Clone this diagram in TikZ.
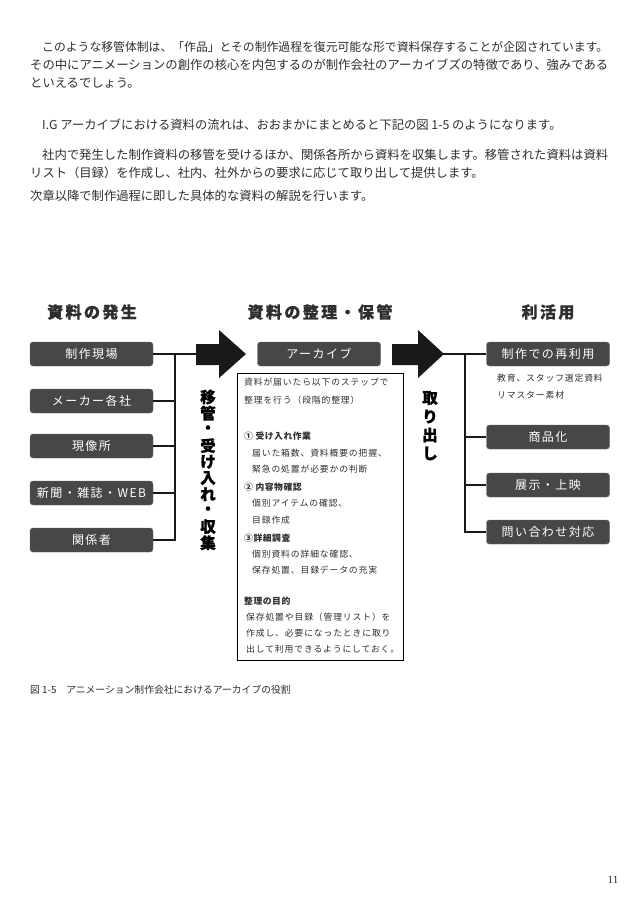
\documentclass[tikz,border=0pt]{standalone}
\usepackage{fontspec}
\usepackage{graphicx}
\setmainfont{Noto Sans CJK JP}
\newfontfamily\pagenumfont{Liberation Serif}
\definecolor{boxgray}{HTML}{474747}
\definecolor{txt}{HTML}{2E2E2E}
\begin{document}
\begin{tikzpicture}[x=1pt,y=-1pt,
  body/.style={anchor=west, inner sep=0, text=txt, font=\fontsize{12.3}{14}\selectfont},
  headtxt/.style={inner sep=0, text=txt, font=\fontsize{16}{18}\selectfont\bfseries\addfontfeature{LetterSpace=15,FakeBold=0.8}},
  darkbox/.style={fill=boxgray, draw=black!60, line width=0.4pt, rounded corners=3pt, minimum width=123pt, minimum height=24pt, inner sep=0, text=white, font=\fontsize{12}{13}\selectfont\addfontfeature{LetterSpace=12}},
  wire/.style={line width=1.8pt, draw=black!90},
  small/.style={anchor=west, inner sep=0, text=txt, font=\fontsize{8.8}{10}\selectfont\addfontfeature{LetterSpace=10}},
  smallb/.style={anchor=west, inner sep=0, text=txt, font=\fontsize{8.8}{10}\selectfont\bfseries\addfontfeature{LetterSpace=6}},
  vchar/.style={inner sep=0, text=black, font=\fontsize{15.5}{16}\selectfont\bfseries\addfontfeature{FakeBold=0.8}}
]
\useasboundingbox[fill=white] (0,0) rectangle (638,903);

% ---- body text ----
\node[body] (t1) at (42,47) {\resizebox{566pt}{!}{このような移管体制は、「作品」とその制作過程を復元可能な形で資料保存することが企図されています。}};
\node[body] (t2) at (30,65) {\resizebox{578pt}{!}{その中にアニメーションの創作の核心を内包するのが制作会社のアーカイブズの特徴であり、強みである}};
\node[body] (t3) at (30,83) {といえるでしょう。};
\node[body] (t4) at (42,125) {I.G アーカイブにおける資料の流れは、おおまかにまとめると下記の図 1-5 のようになります。};
\node[body] (t5) at (42,155) {\resizebox{566pt}{!}{社内で発生した制作資料の移管を受けるほか、関係各所から資料を収集します。移管された資料は資料}};
\node[body] (t6) at (30,173) {リスト（目録）を作成し、社内、社外からの要求に応じて取り出して提供します。};
\node[body] (t7) at (30,196) {次章以降で制作過程に即した具体的な資料の解説を行います。};

% ---- headings ----
\node[headtxt] (h1) at (92,312) {資料の発生};
\node[headtxt] (h2) at (320,312) {資料の整理・保管};
\node[headtxt] (h3) at (548,312) {利活用};

% ---- left boxes ----
\node[darkbox] (L1) at (91.5,354) {制作現場};
\node[darkbox] (L2) at (91.5,401) {メーカー各社};
\node[darkbox] (L3) at (91.5,446) {現像所};
\node[darkbox] (L4) at (91.5,493) {新聞・雑誌・WEB};
\node[darkbox] (L5) at (91.5,540) {関係者};

\coordinate (lb) at (175,354);
\coordinate (a1s) at (198,354);
\draw[wire] (L1.east) -- (a1s);
\draw[wire] (L5.east) -| (lb);
\draw[wire] (L2.east) -- (L2.east -| lb);
\draw[wire] (L3.east) -- (L3.east -| lb);
\draw[wire] (L4.east) -- (L4.east -| lb);

% arrow 1
\fill[black!90] (196,344) -- (219,344) -- (219,330) -- (246,354) -- (219,378) -- (219,365) -- (196,365) -- cycle;

% vertical text 1
\foreach \c [count=\i from 0] in {移,管,・,受,け,入,れ,・,収,集}
  \node[vchar] (va\i) at (208,{397+16.2*\i}) {\c};

% ---- middle ----
\node[darkbox] (arc) at (319,354) {アーカイブ};
\node[draw=black, line width=0.9pt, inner sep=0, minimum width=166pt, minimum height=287pt, anchor=north west] (panel) at (237,373) {};

\node[small]  (p1)  at (244,382) {資料が届いたら以下のステップで};
\node[small]  (p2)  at (244,400) {整理を行う（段階的整理）};
\node[smallb] (p3)  at (244,436) {① 受け入れ作業};
\node[small]  (p4)  at (252,453) {届いた箱数、資料概要の把握、};
\node[small]  (p5)  at (252,469) {緊急の処置が必要かの判断};
\node[smallb] (p6)  at (244,487) {② 内容物確認};
\node[small]  (p7)  at (252,503) {個別アイテムの確認、};
\node[small]  (p8)  at (252,520) {目録作成};
\node[smallb] (p9)  at (244,538) {③詳細調査};
\node[small]  (p10) at (252,554) {個別資料の詳細な確認、};
\node[small]  (p11) at (252,570) {保存処置、目録データの充実};
\node[smallb] (p12) at (244,601) {整理の目的};
\node[small]  (p13) at (246,617) {保存処置や目録（管理リスト）を};
\node[small]  (p14) at (246,633) {作成し、必要になったときに取り};
\node[small]  (p15) at (246,649) {出して利用できるようにしておく。};

% arrow 2
\fill[black!90] (392,344) -- (418,344) -- (418,330) -- (444,354) -- (418,378) -- (418,365) -- (392,365) -- cycle;

% vertical text 2
\foreach \c [count=\i from 0] in {取,り,出,し}
  \node[vchar] (vb\i) at (430,{398+18.5*\i}) {\c};

% ---- right ----
\node[darkbox] (R1) at (548,354) {制作での再利用};
\node[darkbox] (R2) at (548,437) {商品化};
\node[darkbox] (R3) at (548,485) {展示・上映};
\node[darkbox] (R4) at (548,532) {問い合わせ対応};

\coordinate (t2tip) at (440,354);
\coordinate (rb) at (465,354);
\draw[wire] (t2tip) -- (R1.west);
\draw[wire] (R4.west) -| (rb);
\draw[wire] (R2.west) -- (R2.west -| rb);
\draw[wire] (R3.west) -- (R3.west -| rb);

\node[small] (n1) at (497,378) {教育、スタッフ選定資料};
\node[small] (n2) at (497,395) {リマスター素材};

% ---- caption & page number ----
\node[anchor=west, inner sep=0, text=txt, font=\fontsize{9.8}{11}\selectfont] (cap) at (30,690) {図 1-5\hspace{1em}アニメーション制作会社におけるアーカイブの役割};
\node[inner sep=0, text=txt, font=\pagenumfont\fontsize{11}{12}\selectfont] (pg) at (613,880) {11};
\end{tikzpicture}
\end{document}
